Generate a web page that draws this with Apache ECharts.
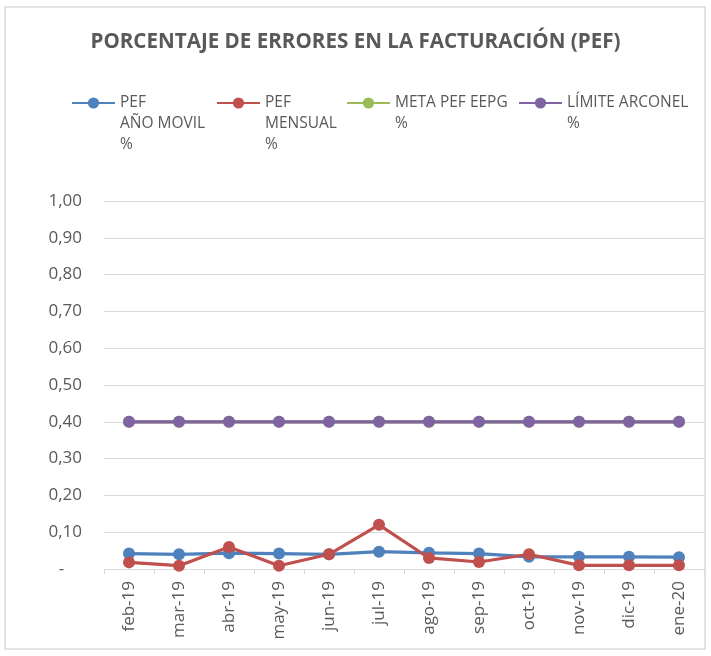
<!DOCTYPE html>
<html>
<head>
<meta charset="utf-8">
<script src="https://cdn.jsdelivr.net/npm/echarts@6/dist/echarts.min.js"></script>
<style>
html,body{margin:0;padding:0;background:#fff;}
#c{width:711px;height:656px;}
</style>
</head>
<body>
<div id="c"></div>
<script>
const categories = ['feb-19','mar-19','abr-19','may-19','jun-19','jul-19','ago-19','sep-19','oct-19','nov-19','dic-19','ene-20'];
const pefAnoMovil = [0.042,0.040,0.043,0.042,0.040,0.047,0.044,0.042,0.033,0.033,0.033,0.032];
const pefMensual = [0.018,0.009,0.060,0.009,0.040,0.120,0.030,0.019,0.040,0.010,0.010,0.010];
const metaPef = [0.40,0.40,0.40,0.40,0.40,0.40,0.40,0.40,0.40,0.40,0.40,0.40];
const limiteArconel = [0.40,0.40,0.40,0.40,0.40,0.40,0.40,0.40,0.40,0.40,0.40,0.40];
const seriesNames = ['PEF\nAÑO MOVIL\n%','PEF\nMENSUAL\n%','META PEF EEPG\n%','LÍMITE ARCONEL\n%'];
const colors = ['#4F81BD','#C0504D','#9BBB59','#8064A2'];

const FONT = 'Open Sans';
const chart = echarts.init(document.getElementById('c'), null, {renderer:'canvas'});
const dataArr = [pefAnoMovil, pefMensual, metaPef, limiteArconel];
const legendLefts = [66, 211, 341, 513];
const lh = 21;
const iconY = 103;
const legends = seriesNames.map((n,i)=>{
  const lines = n.split('\n').length;
  const total = 2*lines - 1;
  return {
    data:[n], left: legendLefts[i], top: iconY - total*lh/2 - 5,
    itemWidth:43, itemHeight:14, padding:5,
    selectedMode:false,
    formatter: name => '\n'.repeat(lines-1) + name,
    textStyle:{fontFamily:FONT, fontSize:15.5, color:'#595959', lineHeight:lh},
    itemGap:0
  };
});
chart.setOption({
  animation:false,
  color: colors,
  title:{
    text:'PORCENTAJE DE ERRORES EN LA FACTURACIÓN (PEF)',
    left:'center', top:27,
    textStyle:{fontFamily:FONT, fontSize:20.6, fontWeight:'bold', color:'#595959'}
  },
  legend: legends,
  graphic:[{type:'rect', shape:{x:5, y:7, width:700, height:642}, style:{fill:null, stroke:'#D9D9D9', lineWidth:1.5}, silent:true}],
  grid:{left:104, right:7, top:201, bottom:87, containLabel:false},
  xAxis:{
    type:'category', data:categories, boundaryGap:true,
    axisLine:{lineStyle:{color:'#D9D9D9', width:1}},
    axisTick:{show:true, length:5, alignWithLabel:false, lineStyle:{color:'#D9D9D9'}},
    axisLabel:{rotate:90, margin:12, fontFamily:FONT, fontSize:17, color:'#595959', interval:0}
  },
  yAxis:{
    type:'value', min:0, max:1, interval:0.1,
    axisLine:{show:false}, axisTick:{show:false},
    splitLine:{lineStyle:{color:'#D9D9D9', width:1}},
    axisLabel:{margin:22, fontFamily:FONT, fontSize:17, color:'#595959',
      formatter:v=> Math.abs(v)<1e-9 ? '-    ' : v.toFixed(2).replace('.',',')}
  },
  series: seriesNames.map((n,i)=>({
    name:n, type:'line', data:dataArr[i], symbol:'circle', symbolSize:12,
    lineStyle:{width:3.2, color:colors[i]}, itemStyle:{color:colors[i]},
    z: 2+i
  }))
});
</script>
</body>
</html>
